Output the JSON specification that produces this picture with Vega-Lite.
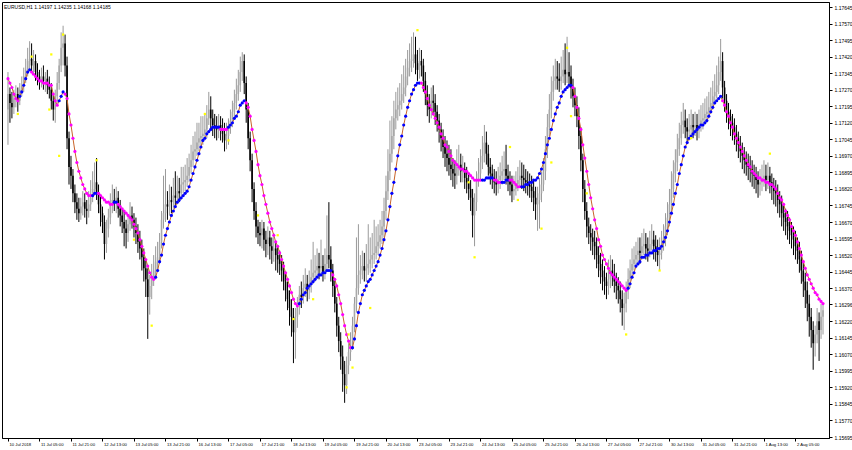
{
"$schema": "https://vega.github.io/schema/vega-lite/v6.json",
"width": 827, "height": 436,
"autosize": {"type": "none"},
"padding": {"left": 2, "top": 2, "right": 23, "bottom": 12},
"background": "#ffffff",
"config": {"view": {"stroke": "#000000", "strokeWidth": 1}, "axis": {"labelFont": "Liberation Sans", "labelColor": "#000000", "domainColor": "#000000", "tickColor": "#000000", "grid": false, "title": null, "labelOverlap": false, "labelFlush": false, "labelBound": false}},
"title": {"text": "EURUSD,H1  1.14197 1.14235 1.14168 1.14185", "anchor": "start", "frame": "group", "orient": "top", "offset": -7, "fontSize": 5, "font": "Liberation Sans", "fontWeight": "normal", "color": "#000000", "dx": 2, "dy": 6, "baseline": "bottom"},
"data": {"values": "i,o,h,l,c,m,d\n0,1.1718,1.1735,1.1702,1.1725,1.1732,d\n1,1.1725,1.1728,1.1712,1.1721,1.1730,d\n2,1.1721,1.1726,1.1714,1.1719,1.1728,d\n3,1.1719,1.1727,1.1716,1.1723,1.1725,d\n4,1.1723,1.1729,1.1719,1.1725,1.1723,d\n5,1.1725,1.1728,1.1717,1.1722,1.1722,d\n6,1.1722,1.1730,1.1720,1.1727,1.1724,u\n7,1.1727,1.1733,1.1724,1.1729,1.1726,u\n8,1.1729,1.1737,1.1726,1.1733,1.1729,u\n9,1.1733,1.1741,1.1730,1.1736,1.1732,u\n10,1.1736,1.1746,1.1733,1.1740,1.1735,u\n11,1.1740,1.1749,1.1736,1.1741,1.1736,u\n12,1.1741,1.1748,1.1735,1.1738,1.1735,d\n13,1.1738,1.1745,1.1734,1.1740,1.1734,d\n14,1.1740,1.1743,1.1731,1.1735,1.1733,d\n15,1.1735,1.1739,1.1729,1.1733,1.1732,d\n16,1.1733,1.1736,1.1727,1.1731,1.1731,d\n17,1.1731,1.1737,1.1728,1.1733,1.1731,d\n18,1.1733,1.1738,1.1727,1.1731,1.1730,d\n19,1.1731,1.1735,1.1726,1.1732,1.1730,d\n20,1.1732,1.1736,1.1725,1.1729,1.1730,d\n21,1.1729,1.1733,1.1723,1.1727,1.1729,d\n22,1.1727,1.1730,1.1718,1.1722,1.1729,d\n23,1.1722,1.1725,1.1713,1.1718,1.1725,d\n24,1.1718,1.1727,1.1712,1.1724,1.1722,d\n25,1.1724,1.1735,1.1721,1.1730,1.1720,d\n26,1.1730,1.1741,1.1727,1.1738,1.1722,u\n27,1.1738,1.1753,1.1735,1.1746,1.1724,u\n28,1.1746,1.1756,1.1738,1.1748,1.1726,u\n29,1.1748,1.1752,1.1733,1.1738,1.1725,d\n30,1.1738,1.1742,1.1700,1.1705,1.1723,d\n31,1.1705,1.1708,1.1684,1.1692,1.1716,d\n32,1.1692,1.1697,1.1682,1.1688,1.1711,d\n33,1.1688,1.1691,1.1676,1.1680,1.1705,d\n34,1.1680,1.1684,1.1671,1.1676,1.1699,d\n35,1.1676,1.1680,1.1668,1.1673,1.1694,d\n36,1.1673,1.1678,1.1667,1.1671,1.1690,d\n37,1.1671,1.1678,1.1668,1.1674,1.1687,d\n38,1.1674,1.1681,1.1670,1.1676,1.1684,d\n39,1.1676,1.1680,1.1669,1.1673,1.1682,d\n40,1.1673,1.1677,1.1666,1.1672,1.1680,d\n41,1.1672,1.1681,1.1669,1.1675,1.1679,d\n42,1.1675,1.1686,1.1672,1.1678,1.1679,d\n43,1.1678,1.1690,1.1676,1.1682,1.1679,u\n44,1.1682,1.1694,1.1679,1.1685,1.1680,u\n45,1.1685,1.1696,1.1677,1.1680,1.1680,u\n46,1.1680,1.1684,1.1671,1.1675,1.1680,d\n47,1.1675,1.1679,1.1665,1.1671,1.1679,d\n48,1.1671,1.1674,1.1662,1.1667,1.1678,d\n49,1.1667,1.1670,1.1650,1.1657,1.1677,d\n50,1.1657,1.1668,1.1653,1.1664,1.1676,d\n51,1.1664,1.1673,1.1660,1.1669,1.1676,d\n52,1.1669,1.1680,1.1666,1.1675,1.1675,d\n53,1.1675,1.1684,1.1671,1.1677,1.1675,d\n54,1.1677,1.1682,1.1672,1.1676,1.1676,u\n55,1.1676,1.1683,1.1671,1.1678,1.1676,u\n56,1.1678,1.1681,1.1669,1.1673,1.1675,d\n57,1.1673,1.1677,1.1665,1.1670,1.1674,d\n58,1.1670,1.1673,1.1662,1.1667,1.1673,d\n59,1.1667,1.1672,1.1656,1.1664,1.1672,d\n60,1.1664,1.1668,1.1655,1.1662,1.1671,d\n61,1.1662,1.1670,1.1658,1.1666,1.1670,d\n62,1.1666,1.1676,1.1663,1.1670,1.1669,d\n63,1.1670,1.1674,1.1664,1.1668,1.1668,d\n64,1.1668,1.1671,1.1660,1.1665,1.1666,d\n65,1.1665,1.1669,1.1657,1.1662,1.1664,d\n66,1.1662,1.1666,1.1653,1.1658,1.1662,d\n67,1.1658,1.1663,1.1650,1.1655,1.1659,d\n68,1.1655,1.1659,1.1645,1.1651,1.1656,d\n69,1.1651,1.1655,1.1640,1.1646,1.1653,d\n70,1.1646,1.1650,1.1633,1.1641,1.1650,d\n71,1.1641,1.1646,1.1614,1.1633,1.1647,d\n72,1.1633,1.1643,1.1625,1.1638,1.1644,d\n73,1.1638,1.1648,1.1632,1.1642,1.1642,d\n74,1.1642,1.1652,1.1638,1.1645,1.1641,d\n75,1.1645,1.1656,1.1641,1.1649,1.1642,u\n76,1.1649,1.1658,1.1645,1.1651,1.1645,u\n77,1.1651,1.1662,1.1648,1.1658,1.1649,u\n78,1.1658,1.1672,1.1655,1.1668,1.1652,u\n79,1.1668,1.1688,1.1664,1.1671,1.1657,u\n80,1.1671,1.1691,1.1667,1.1675,1.1661,u\n81,1.1675,1.1681,1.1668,1.1674,1.1664,u\n82,1.1674,1.1684,1.1670,1.1677,1.1667,u\n83,1.1677,1.1683,1.1671,1.1676,1.1670,u\n84,1.1676,1.1687,1.1673,1.1679,1.1672,u\n85,1.1679,1.1690,1.1674,1.1678,1.1674,u\n86,1.1678,1.1688,1.1675,1.1681,1.1676,u\n87,1.1681,1.1687,1.1676,1.1680,1.1677,u\n88,1.1680,1.1692,1.1677,1.1684,1.1678,u\n89,1.1684,1.1692,1.1680,1.1685,1.1679,u\n90,1.1685,1.1693,1.1681,1.1686,1.1680,u\n91,1.1686,1.1696,1.1683,1.1688,1.1681,u\n92,1.1688,1.1698,1.1685,1.1692,1.1683,u\n93,1.1692,1.1702,1.1689,1.1695,1.1686,u\n94,1.1695,1.1706,1.1692,1.1699,1.1689,u\n95,1.1699,1.1708,1.1695,1.1700,1.1692,u\n96,1.1700,1.1712,1.1697,1.1703,1.1695,u\n97,1.1703,1.1712,1.1699,1.1705,1.1698,u\n98,1.1705,1.1715,1.1701,1.1706,1.1701,u\n99,1.1706,1.1715,1.1702,1.1707,1.1704,u\n100,1.1707,1.1716,1.1704,1.1709,1.1705,u\n101,1.1709,1.1720,1.1705,1.1714,1.1707,u\n102,1.1714,1.1726,1.1711,1.1718,1.1708,u\n103,1.1718,1.1724,1.1709,1.1714,1.1709,u\n104,1.1714,1.1718,1.1706,1.1711,1.1710,u\n105,1.1711,1.1716,1.1705,1.1710,1.1710,u\n106,1.1710,1.1715,1.1704,1.1709,1.1710,u\n107,1.1709,1.1716,1.1705,1.1711,1.1710,u\n108,1.1711,1.1715,1.1704,1.1709,1.1709,d\n109,1.1709,1.1714,1.1703,1.1707,1.1709,d\n110,1.1707,1.1712,1.1699,1.1704,1.1709,d\n111,1.1704,1.1712,1.1700,1.1706,1.1709,d\n112,1.1706,1.1714,1.1702,1.1710,1.1710,u\n113,1.1710,1.1718,1.1707,1.1713,1.1711,u\n114,1.1713,1.1722,1.1710,1.1717,1.1712,u\n115,1.1717,1.1727,1.1714,1.1721,1.1714,u\n116,1.1721,1.1732,1.1718,1.1725,1.1715,u\n117,1.1725,1.1736,1.1722,1.1729,1.1717,u\n118,1.1729,1.1742,1.1726,1.1735,1.1720,u\n119,1.1735,1.1744,1.1731,1.1740,1.1721,u\n120,1.1740,1.1743,1.1725,1.1730,1.1722,u\n121,1.1730,1.1733,1.1712,1.1718,1.1721,d\n122,1.1718,1.1721,1.1700,1.1705,1.1719,d\n123,1.1705,1.1708,1.1690,1.1695,1.1715,d\n124,1.1695,1.1698,1.1676,1.1682,1.1709,d\n125,1.1682,1.1685,1.1668,1.1672,1.1704,d\n126,1.1672,1.1676,1.1660,1.1665,1.1699,d\n127,1.1665,1.1668,1.1657,1.1662,1.1693,d\n128,1.1662,1.1667,1.1656,1.1661,1.1688,d\n129,1.1661,1.1668,1.1655,1.1664,1.1684,d\n130,1.1664,1.1667,1.1654,1.1659,1.1679,d\n131,1.1659,1.1663,1.1651,1.1657,1.1675,d\n132,1.1657,1.1665,1.1652,1.1660,1.1671,d\n133,1.1660,1.1663,1.1650,1.1656,1.1667,d\n134,1.1656,1.1660,1.1648,1.1654,1.1664,d\n135,1.1654,1.1662,1.1649,1.1655,1.1661,d\n136,1.1655,1.1658,1.1645,1.1652,1.1658,d\n137,1.1652,1.1656,1.1644,1.1650,1.1656,d\n138,1.1650,1.1654,1.1643,1.1648,1.1653,d\n139,1.1648,1.1652,1.1640,1.1645,1.1650,d\n140,1.1645,1.1649,1.1636,1.1640,1.1647,d\n141,1.1640,1.1644,1.1631,1.1636,1.1644,d\n142,1.1636,1.1640,1.1627,1.1632,1.1641,d\n143,1.1632,1.1636,1.1620,1.1628,1.1638,d\n144,1.1628,1.1632,1.1615,1.1624,1.1635,d\n145,1.1624,1.1628,1.1603,1.1617,1.1632,d\n146,1.1617,1.1628,1.1605,1.1624,1.1630,d\n147,1.1624,1.1633,1.1619,1.1629,1.1629,d\n148,1.1629,1.1638,1.1625,1.1634,1.1630,u\n149,1.1634,1.1640,1.1628,1.1633,1.1632,u\n150,1.1633,1.1643,1.1630,1.1637,1.1634,u\n151,1.1637,1.1646,1.1633,1.1639,1.1635,u\n152,1.1639,1.1643,1.1631,1.1636,1.1637,u\n153,1.1636,1.1645,1.1632,1.1638,1.1638,u\n154,1.1638,1.1650,1.1635,1.1642,1.1639,u\n155,1.1642,1.1658,1.1639,1.1644,1.1640,u\n156,1.1644,1.1652,1.1640,1.1645,1.1641,u\n157,1.1645,1.1655,1.1642,1.1647,1.1642,u\n158,1.1647,1.1653,1.1641,1.1646,1.1643,u\n159,1.1646,1.1659,1.1643,1.1647,1.1643,u\n160,1.1647,1.1652,1.1640,1.1644,1.1644,u\n161,1.1644,1.1655,1.1641,1.1648,1.1644,u\n162,1.1648,1.1670,1.1645,1.1652,1.1645,u\n163,1.1652,1.1676,1.1646,1.1650,1.1645,u\n164,1.1650,1.1656,1.1640,1.1645,1.1645,u\n165,1.1645,1.1648,1.1633,1.1638,1.1643,d\n166,1.1638,1.1641,1.1626,1.1630,1.1641,d\n167,1.1630,1.1633,1.1615,1.1620,1.1638,d\n168,1.1620,1.1624,1.1608,1.1613,1.1634,d\n169,1.1613,1.1617,1.1600,1.1606,1.1630,d\n170,1.1606,1.1611,1.1590,1.1598,1.1625,d\n171,1.1598,1.1604,1.1585,1.1593,1.1620,d\n172,1.1593,1.1606,1.1589,1.1602,1.1616,d\n173,1.1602,1.1612,1.1598,1.1608,1.1613,d\n174,1.1608,1.1617,1.1604,1.1613,1.1610,d\n175,1.1613,1.1624,1.1609,1.1620,1.1610,u\n176,1.1620,1.1633,1.1617,1.1630,1.1614,u\n177,1.1630,1.1660,1.1626,1.1637,1.1620,u\n178,1.1637,1.1666,1.1634,1.1643,1.1626,u\n179,1.1643,1.1652,1.1639,1.1645,1.1630,u\n180,1.1645,1.1654,1.1641,1.1647,1.1634,u\n181,1.1647,1.1653,1.1640,1.1645,1.1636,u\n182,1.1645,1.1657,1.1640,1.1646,1.1638,u\n183,1.1646,1.1666,1.1643,1.1648,1.1640,u\n184,1.1648,1.1660,1.1644,1.1650,1.1641,u\n185,1.1650,1.1662,1.1646,1.1652,1.1643,u\n186,1.1652,1.1668,1.1648,1.1653,1.1645,u\n187,1.1653,1.1665,1.1650,1.1656,1.1647,u\n188,1.1656,1.1666,1.1652,1.1658,1.1649,u\n189,1.1658,1.1668,1.1655,1.1661,1.1652,u\n190,1.1661,1.1672,1.1657,1.1665,1.1655,u\n191,1.1665,1.1678,1.1660,1.1672,1.1659,u\n192,1.1672,1.1688,1.1668,1.1681,1.1663,u\n193,1.1681,1.1700,1.1677,1.1690,1.1668,u\n194,1.1690,1.1713,1.1686,1.1698,1.1674,u\n195,1.1698,1.1715,1.1694,1.1706,1.1680,u\n196,1.1706,1.1722,1.1700,1.1714,1.1685,u\n197,1.1714,1.1726,1.1709,1.1718,1.1691,u\n198,1.1718,1.1728,1.1713,1.1720,1.1697,u\n199,1.1720,1.1730,1.1715,1.1722,1.1702,u\n200,1.1722,1.1734,1.1718,1.1725,1.1706,u\n201,1.1725,1.1738,1.1721,1.1728,1.1711,u\n202,1.1728,1.1741,1.1724,1.1733,1.1715,u\n203,1.1733,1.1745,1.1729,1.1737,1.1719,u\n204,1.1737,1.1748,1.1733,1.1740,1.1722,u\n205,1.1740,1.1751,1.1735,1.1741,1.1725,u\n206,1.1741,1.1753,1.1737,1.1743,1.1727,u\n207,1.1743,1.1751,1.1734,1.1739,1.1729,u\n208,1.1739,1.1745,1.1731,1.1736,1.1730,u\n209,1.1736,1.1746,1.1732,1.1740,1.1730,u\n210,1.1740,1.1745,1.1733,1.1738,1.1730,d\n211,1.1738,1.1741,1.1726,1.1731,1.1728,d\n212,1.1731,1.1735,1.1720,1.1725,1.1726,d\n213,1.1725,1.1729,1.1715,1.1720,1.1723,d\n214,1.1720,1.1725,1.1712,1.1718,1.1720,d\n215,1.1718,1.1728,1.1714,1.1722,1.1718,d\n216,1.1722,1.1729,1.1716,1.1721,1.1716,d\n217,1.1721,1.1725,1.1711,1.1717,1.1714,d\n218,1.1717,1.1720,1.1708,1.1713,1.1712,d\n219,1.1713,1.1716,1.1703,1.1709,1.1710,d\n220,1.1709,1.1712,1.1699,1.1705,1.1707,d\n221,1.1705,1.1709,1.1696,1.1701,1.1705,d\n222,1.1701,1.1706,1.1692,1.1698,1.1702,d\n223,1.1698,1.1704,1.1690,1.1696,1.1701,d\n224,1.1696,1.1702,1.1688,1.1693,1.1699,d\n225,1.1693,1.1700,1.1686,1.1691,1.1697,d\n226,1.1691,1.1696,1.1683,1.1689,1.1695,d\n227,1.1689,1.1695,1.1682,1.1688,1.1694,d\n228,1.1688,1.1700,1.1684,1.1692,1.1693,d\n229,1.1692,1.1702,1.1688,1.1693,1.1692,d\n230,1.1693,1.1698,1.1685,1.1690,1.1691,d\n231,1.1690,1.1697,1.1685,1.1691,1.1691,d\n232,1.1691,1.1694,1.1682,1.1687,1.1690,d\n233,1.1687,1.1692,1.1680,1.1685,1.1690,d\n234,1.1685,1.1689,1.1677,1.1682,1.1689,d\n235,1.1682,1.1686,1.1672,1.1678,1.1688,d\n236,1.1678,1.1682,1.1660,1.1670,1.1687,d\n237,1.1670,1.1680,1.1656,1.1676,1.1686,d\n238,1.1676,1.1690,1.1672,1.1686,1.1686,d\n239,1.1686,1.1696,1.1683,1.1689,1.1686,d\n240,1.1689,1.1700,1.1686,1.1694,1.1686,d\n241,1.1694,1.1706,1.1691,1.1697,1.1686,u\n242,1.1697,1.1711,1.1694,1.1703,1.1686,u\n243,1.1703,1.1708,1.1693,1.1698,1.1687,u\n244,1.1698,1.1702,1.1688,1.1692,1.1687,u\n245,1.1692,1.1696,1.1684,1.1689,1.1687,u\n246,1.1689,1.1693,1.1682,1.1687,1.1687,u\n247,1.1687,1.1691,1.1680,1.1685,1.1686,d\n248,1.1685,1.1690,1.1679,1.1684,1.1686,d\n249,1.1684,1.1692,1.1680,1.1686,1.1685,d\n250,1.1686,1.1694,1.1682,1.1688,1.1685,d\n251,1.1688,1.1697,1.1684,1.1690,1.1685,u\n252,1.1690,1.1699,1.1686,1.1691,1.1685,u\n253,1.1691,1.1702,1.1684,1.1688,1.1686,u\n254,1.1688,1.1693,1.1681,1.1686,1.1686,u\n255,1.1686,1.1690,1.1679,1.1684,1.1686,d\n256,1.1684,1.1688,1.1676,1.1681,1.1686,d\n257,1.1681,1.1688,1.1677,1.1682,1.1685,d\n258,1.1682,1.1690,1.1679,1.1684,1.1684,d\n259,1.1684,1.1692,1.1681,1.1686,1.1683,d\n260,1.1686,1.1695,1.1683,1.1688,1.1683,d\n261,1.1688,1.1694,1.1682,1.1687,1.1683,u\n262,1.1687,1.1693,1.1681,1.1686,1.1683,u\n263,1.1686,1.1691,1.1680,1.1685,1.1684,u\n264,1.1685,1.1690,1.1679,1.1684,1.1684,u\n265,1.1684,1.1689,1.1678,1.1683,1.1685,u\n266,1.1683,1.1688,1.1676,1.1681,1.1685,u\n267,1.1681,1.1686,1.1672,1.1678,1.1686,u\n268,1.1678,1.1683,1.1668,1.1675,1.1686,u\n269,1.1675,1.1683,1.1663,1.1677,1.1687,u\n270,1.1677,1.1687,1.1664,1.1680,1.1689,u\n271,1.1680,1.1690,1.1676,1.1684,1.1691,u\n272,1.1684,1.1696,1.1681,1.1690,1.1694,u\n273,1.1690,1.1706,1.1686,1.1700,1.1698,u\n274,1.1700,1.1716,1.1696,1.1710,1.1702,u\n275,1.1710,1.1725,1.1706,1.1718,1.1705,u\n276,1.1718,1.1733,1.1714,1.1726,1.1709,u\n277,1.1726,1.1738,1.1722,1.1731,1.1713,u\n278,1.1731,1.1741,1.1727,1.1733,1.1716,u\n279,1.1733,1.1740,1.1727,1.1732,1.1719,u\n280,1.1732,1.1739,1.1726,1.1731,1.1721,u\n281,1.1731,1.1742,1.1727,1.1733,1.1724,u\n282,1.1733,1.1745,1.1730,1.1736,1.1726,u\n283,1.1736,1.1748,1.1729,1.1734,1.1727,u\n284,1.1734,1.1751,1.1730,1.1735,1.1728,u\n285,1.1735,1.1744,1.1728,1.1733,1.1729,u\n286,1.1733,1.1738,1.1723,1.1728,1.1729,u\n287,1.1728,1.1732,1.1719,1.1724,1.1728,d\n288,1.1724,1.1728,1.1715,1.1720,1.1724,d\n289,1.1720,1.1724,1.1710,1.1715,1.1719,d\n290,1.1715,1.1719,1.1700,1.1706,1.1714,d\n291,1.1706,1.1710,1.1690,1.1695,1.1709,d\n292,1.1695,1.1698,1.1676,1.1682,1.1702,d\n293,1.1682,1.1686,1.1668,1.1672,1.1696,d\n294,1.1672,1.1676,1.1660,1.1665,1.1690,d\n295,1.1665,1.1669,1.1657,1.1662,1.1684,d\n296,1.1662,1.1666,1.1654,1.1660,1.1678,d\n297,1.1660,1.1664,1.1652,1.1658,1.1673,d\n298,1.1658,1.1663,1.1650,1.1656,1.1668,d\n299,1.1656,1.1660,1.1646,1.1652,1.1664,d\n300,1.1652,1.1656,1.1642,1.1648,1.1659,d\n301,1.1648,1.1653,1.1639,1.1645,1.1656,d\n302,1.1645,1.1650,1.1636,1.1642,1.1652,d\n303,1.1642,1.1647,1.1634,1.1640,1.1650,d\n304,1.1640,1.1644,1.1632,1.1638,1.1648,d\n305,1.1638,1.1650,1.1634,1.1641,1.1646,d\n306,1.1641,1.1652,1.1637,1.1645,1.1644,d\n307,1.1645,1.1650,1.1638,1.1643,1.1643,d\n308,1.1643,1.1648,1.1635,1.1640,1.1642,d\n309,1.1640,1.1644,1.1632,1.1638,1.1641,d\n310,1.1638,1.1642,1.1630,1.1636,1.1640,d\n311,1.1636,1.1640,1.1626,1.1632,1.1639,d\n312,1.1632,1.1636,1.1620,1.1628,1.1638,d\n313,1.1628,1.1635,1.1618,1.1630,1.1637,d\n314,1.1630,1.1640,1.1626,1.1636,1.1636,d\n315,1.1636,1.1646,1.1632,1.1641,1.1637,u\n316,1.1641,1.1650,1.1637,1.1645,1.1639,u\n317,1.1645,1.1655,1.1642,1.1648,1.1642,u\n318,1.1648,1.1656,1.1645,1.1650,1.1644,u\n319,1.1650,1.1658,1.1646,1.1652,1.1647,u\n320,1.1652,1.1660,1.1648,1.1654,1.1648,u\n321,1.1654,1.1660,1.1648,1.1653,1.1649,u\n322,1.1653,1.1662,1.1650,1.1656,1.1651,u\n323,1.1656,1.1664,1.1652,1.1657,1.1651,u\n324,1.1657,1.1662,1.1650,1.1655,1.1652,u\n325,1.1655,1.1660,1.1649,1.1654,1.1652,u\n326,1.1654,1.1663,1.1651,1.1657,1.1653,u\n327,1.1657,1.1666,1.1654,1.1659,1.1653,u\n328,1.1659,1.1663,1.1650,1.1656,1.1654,u\n329,1.1656,1.1661,1.1649,1.1654,1.1654,u\n330,1.1654,1.1659,1.1647,1.1652,1.1655,u\n331,1.1652,1.1660,1.1645,1.1653,1.1655,u\n332,1.1653,1.1663,1.1650,1.1657,1.1656,u\n333,1.1657,1.1666,1.1654,1.1660,1.1658,u\n334,1.1660,1.1671,1.1656,1.1665,1.1660,u\n335,1.1665,1.1676,1.1661,1.1669,1.1663,u\n336,1.1669,1.1682,1.1665,1.1675,1.1667,u\n337,1.1675,1.1690,1.1671,1.1682,1.1671,u\n338,1.1682,1.1695,1.1678,1.1689,1.1675,u\n339,1.1689,1.1700,1.1685,1.1694,1.1680,u\n340,1.1694,1.1707,1.1690,1.1700,1.1684,u\n341,1.1700,1.1712,1.1697,1.1705,1.1689,u\n342,1.1705,1.1717,1.1702,1.1711,1.1693,u\n343,1.1711,1.1721,1.1707,1.1713,1.1697,u\n344,1.1713,1.1718,1.1705,1.1710,1.1701,u\n345,1.1710,1.1714,1.1703,1.1708,1.1703,u\n346,1.1708,1.1716,1.1704,1.1709,1.1705,u\n347,1.1709,1.1718,1.1706,1.1711,1.1706,u\n348,1.1711,1.1716,1.1705,1.1710,1.1707,u\n349,1.1710,1.1717,1.1706,1.1711,1.1708,u\n350,1.1711,1.1716,1.1704,1.1709,1.1709,u\n351,1.1709,1.1718,1.1705,1.1711,1.1710,u\n352,1.1711,1.1720,1.1708,1.1713,1.1711,u\n353,1.1713,1.1721,1.1709,1.1714,1.1711,u\n354,1.1714,1.1723,1.1711,1.1716,1.1712,u\n355,1.1716,1.1724,1.1712,1.1717,1.1713,u\n356,1.1717,1.1726,1.1714,1.1719,1.1715,u\n357,1.1719,1.1728,1.1716,1.1721,1.1717,u\n358,1.1721,1.1731,1.1718,1.1724,1.1719,u\n359,1.1724,1.1734,1.1721,1.1726,1.1721,u\n360,1.1726,1.1738,1.1723,1.1729,1.1722,u\n361,1.1729,1.1742,1.1725,1.1735,1.1723,u\n362,1.1735,1.1750,1.1731,1.1740,1.1724,u\n363,1.1740,1.1744,1.1723,1.1728,1.1722,d\n364,1.1728,1.1731,1.1717,1.1722,1.1720,d\n365,1.1722,1.1725,1.1712,1.1717,1.1717,d\n366,1.1717,1.1721,1.1709,1.1715,1.1715,d\n367,1.1715,1.1718,1.1706,1.1712,1.1712,d\n368,1.1712,1.1716,1.1704,1.1710,1.1710,d\n369,1.1710,1.1714,1.1702,1.1707,1.1707,d\n370,1.1707,1.1711,1.1699,1.1705,1.1705,d\n371,1.1705,1.1708,1.1696,1.1702,1.1703,d\n372,1.1702,1.1706,1.1694,1.1699,1.1701,d\n373,1.1699,1.1703,1.1691,1.1697,1.1699,d\n374,1.1697,1.1701,1.1689,1.1695,1.1697,d\n375,1.1695,1.1699,1.1688,1.1693,1.1695,d\n376,1.1693,1.1698,1.1686,1.1692,1.1693,d\n377,1.1692,1.1697,1.1685,1.1691,1.1692,d\n378,1.1691,1.1695,1.1683,1.1689,1.1690,d\n379,1.1689,1.1693,1.1682,1.1688,1.1689,d\n380,1.1688,1.1692,1.1680,1.1686,1.1688,d\n381,1.1686,1.1690,1.1678,1.1684,1.1687,d\n382,1.1684,1.1691,1.1679,1.1685,1.1687,d\n383,1.1685,1.1693,1.1681,1.1687,1.1686,d\n384,1.1687,1.1695,1.1683,1.1688,1.1686,d\n385,1.1688,1.1693,1.1681,1.1686,1.1685,d\n386,1.1686,1.1694,1.1682,1.1688,1.1685,d\n387,1.1688,1.1692,1.1680,1.1685,1.1684,d\n388,1.1685,1.1689,1.1677,1.1683,1.1684,d\n389,1.1683,1.1687,1.1675,1.1681,1.1683,d\n390,1.1681,1.1686,1.1674,1.1680,1.1682,d\n391,1.1680,1.1684,1.1671,1.1677,1.1680,d\n392,1.1677,1.1681,1.1669,1.1675,1.1678,d\n393,1.1675,1.1679,1.1665,1.1671,1.1677,d\n394,1.1671,1.1675,1.1663,1.1669,1.1675,d\n395,1.1669,1.1673,1.1661,1.1667,1.1672,d\n396,1.1667,1.1672,1.1659,1.1665,1.1670,d\n397,1.1665,1.1669,1.1657,1.1663,1.1668,d\n398,1.1663,1.1667,1.1655,1.1661,1.1665,d\n399,1.1661,1.1665,1.1652,1.1659,1.1663,d\n400,1.1659,1.1663,1.1650,1.1656,1.1661,d\n401,1.1656,1.1660,1.1648,1.1654,1.1658,d\n402,1.1654,1.1658,1.1644,1.1650,1.1655,d\n403,1.1650,1.1654,1.1639,1.1645,1.1652,d\n404,1.1645,1.1649,1.1633,1.1640,1.1649,d\n405,1.1640,1.1644,1.1628,1.1636,1.1646,d\n406,1.1636,1.1640,1.1622,1.1630,1.1643,d\n407,1.1630,1.1634,1.1615,1.1624,1.1641,d\n408,1.1624,1.1628,1.1610,1.1618,1.1639,d\n409,1.1618,1.1622,1.1600,1.1612,1.1637,d\n410,1.1612,1.1620,1.1606,1.1616,1.1635,d\n411,1.1616,1.1628,1.1612,1.1622,1.1634,d\n412,1.1622,1.1626,1.1604,1.1618,1.1632,d\n413,1.1618,1.1630,1.1614,1.1624,1.1631,d\n414,1.1624,1.1630,1.1616,1.1627,1.1630,d", "format": {"type": "csv", "parse": {"i": "number", "o": "number", "h": "number", "l": "number", "c": "number", "m": "number"}}},
"encoding": {"x": {"field": "i", "type": "quantitative", "scale": {"domain": [-0.5, 414.5], "nice": false, "zero": false}, "axis": {"orient": "bottom", "values": [0,16,32,48,64,80,96,112,128,144,160,176,192,208,224,240,256,272,288,304,320,336,352,368,384,400], "labelExpr": "['10 Jul 2018','11 Jul 05:00','11 Jul 21:00','12 Jul 13:00','13 Jul 05:00','13 Jul 21:00','16 Jul 13:00','17 Jul 05:00','17 Jul 21:00','18 Jul 13:00','19 Jul 05:00','19 Jul 21:00','20 Jul 13:00','23 Jul 05:00','23 Jul 21:00','24 Jul 13:00','25 Jul 05:00','25 Jul 21:00','26 Jul 13:00','27 Jul 05:00','27 Jul 21:00','30 Jul 13:00','31 Jul 05:00','31 Jul 21:00','1 Aug 13:00','2 Aug 05:00'][round(datum.value/16)]", "labelAlign": "left", "labelBaseline": "top", "labelPadding": 1, "labelOffset": 1, "labelFontSize": 4.2, "tickSize": 3, "labelOverlap": false, "labelFlush": false, "labelBound": false}}},
"layer": [
 {"mark": {"type": "rule", "strokeWidth": 1}, "encoding": {"y": {"field": "l", "type": "quantitative", "scale": {"domain": [1.156905, 1.176677], "nice": false, "zero": false}, "axis": {"orient": "right", "values": [1.17645,1.1757,1.17495,1.1742,1.17345,1.1727,1.17195,1.1712,1.17045,1.1697,1.16895,1.1682,1.16745,1.1667,1.16595,1.1652,1.16445,1.1637,1.16296,1.1622,1.16145,1.1607,1.15995,1.1592,1.15845,1.1577,1.15695], "labelExpr": "format(datum.value,'.5f')", "labelFontSize": 5, "tickSize": 3, "labelPadding": 2, "labelOverlap": false, "labelFlush": false, "labelBound": false}}, "y2": {"field": "h"}, "color": {"condition": {"test": "datum.c >= datum.o", "value": "#9a9a9a"}, "value": "#000000"}}},
 {"mark": {"type": "bar", "width": 1.6}, "encoding": {"y": {"field": "o", "type": "quantitative", "scale": {"domain": [1.156905, 1.176677], "nice": false, "zero": false}, "axis": {"orient": "right", "values": [1.17645,1.1757,1.17495,1.1742,1.17345,1.1727,1.17195,1.1712,1.17045,1.1697,1.16895,1.1682,1.16745,1.1667,1.16595,1.1652,1.16445,1.1637,1.16296,1.1622,1.16145,1.1607,1.15995,1.1592,1.15845,1.1577,1.15695], "labelExpr": "format(datum.value,'.5f')", "labelFontSize": 5, "tickSize": 3, "labelPadding": 2, "labelOverlap": false, "labelFlush": false, "labelBound": false}}, "y2": {"field": "c"}, "color": {"condition": {"test": "datum.c >= datum.o", "value": "#a8a8a8"}, "value": "#000000"}}},
 {"mark": {"type": "line", "color": "#c8642a", "strokeWidth": 1}, "encoding": {"y": {"field": "m", "type": "quantitative", "scale": {"domain": [1.156905, 1.176677], "nice": false, "zero": false}, "axis": {"orient": "right", "values": [1.17645,1.1757,1.17495,1.1742,1.17345,1.1727,1.17195,1.1712,1.17045,1.1697,1.16895,1.1682,1.16745,1.1667,1.16595,1.1652,1.16445,1.1637,1.16296,1.1622,1.16145,1.1607,1.15995,1.1592,1.15845,1.1577,1.15695], "labelExpr": "format(datum.value,'.5f')", "labelFontSize": 5, "tickSize": 3, "labelPadding": 2, "labelOverlap": false, "labelFlush": false, "labelBound": false}}}},
 {"mark": {"type": "circle", "size": 10, "opacity": 1}, "encoding": {"y": {"field": "m", "type": "quantitative", "scale": {"domain": [1.156905, 1.176677], "nice": false, "zero": false}, "axis": {"orient": "right", "values": [1.17645,1.1757,1.17495,1.1742,1.17345,1.1727,1.17195,1.1712,1.17045,1.1697,1.16895,1.1682,1.16745,1.1667,1.16595,1.1652,1.16445,1.1637,1.16296,1.1622,1.16145,1.1607,1.15995,1.1592,1.15845,1.1577,1.15695], "labelExpr": "format(datum.value,'.5f')", "labelFontSize": 5, "tickSize": 3, "labelPadding": 2, "labelOverlap": false, "labelFlush": false, "labelBound": false}}, "color": {"condition": {"test": "datum.d === 'u'", "value": "#0000ff"}, "value": "#ff00ff"}}},
 {"data": {"values": [{"i":5,"p":1.1716},{"i":12,"p":1.1742},{"i":21,"p":1.1718},{"i":22,"p":1.1743},{"i":26,"p":1.1697},{"i":28,"p":1.1752},{"i":45,"p":1.1695},{"i":64,"p":1.1659},{"i":73,"p":1.1620},{"i":100,"p":1.1716},{"i":112,"p":1.1704},{"i":127,"p":1.1670},{"i":137,"p":1.1661},{"i":145,"p":1.1623},{"i":155,"p":1.1632},{"i":173,"p":1.1616},{"i":175,"p":1.1601},{"i":172,"p":1.1592},{"i":184,"p":1.1628},{"i":208,"p":1.1754},{"i":234,"p":1.1685},{"i":237,"p":1.1651},{"i":255,"p":1.1701},{"i":259,"p":1.1677},{"i":271,"p":1.1664},{"i":276,"p":1.1694},{"i":284,"p":1.1746},{"i":286,"p":1.1715},{"i":294,"p":1.1680},{"i":314,"p":1.1616},{"i":331,"p":1.1645},{"i":347,"p":1.1705},{"i":387,"p":1.1698}]}, "mark": {"type": "square", "size": 5, "color": "#ffff00", "opacity": 1}, "encoding": {"y": {"field": "p", "type": "quantitative", "scale": {"domain": [1.156905, 1.176677], "nice": false, "zero": false}, "axis": {"orient": "right", "values": [1.17645,1.1757,1.17495,1.1742,1.17345,1.1727,1.17195,1.1712,1.17045,1.1697,1.16895,1.1682,1.16745,1.1667,1.16595,1.1652,1.16445,1.1637,1.16296,1.1622,1.16145,1.1607,1.15995,1.1592,1.15845,1.1577,1.15695], "labelExpr": "format(datum.value,'.5f')", "labelFontSize": 5, "tickSize": 3, "labelPadding": 2, "labelOverlap": false, "labelFlush": false, "labelBound": false}}}}
]
}
